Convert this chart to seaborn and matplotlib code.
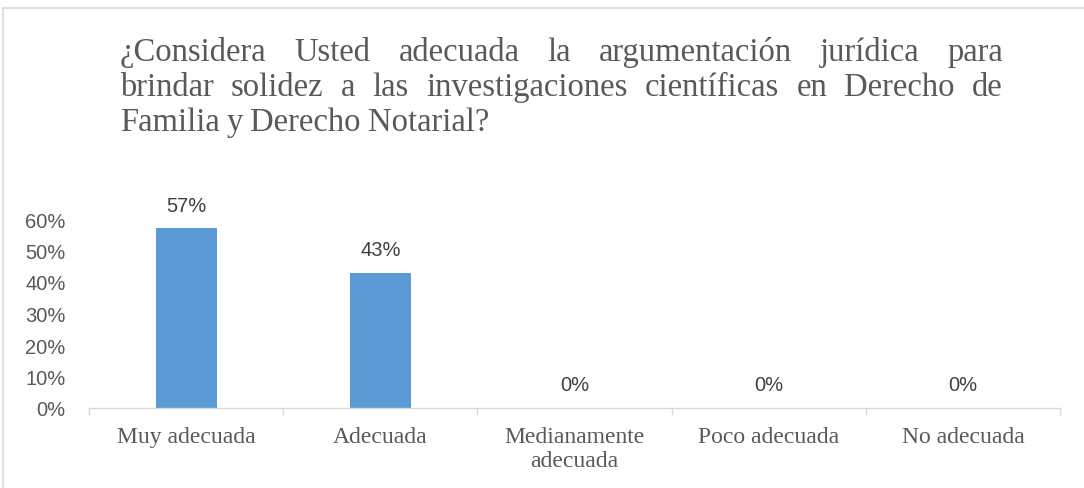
import matplotlib
matplotlib.use("Agg")
import matplotlib.pyplot as plt
import seaborn as sns
import pandas as pd
from matplotlib.patches import Rectangle

# datos del gráfico
categorias = ["Muy adecuada", "Adecuada", "Medianamente\nadecuada", "Poco adecuada", "No adecuada"]
valores = [0.57, 0.43, 0.0, 0.0, 0.0]
etiquetas = ["57%", "43%", "0%", "0%", "0%"]
yticks = [0.0, 0.1, 0.2, 0.3, 0.4, 0.5, 0.6]
titulo_lineas = [
    "¿Considera Usted adecuada la argumentación jurídica para",
    "brindar solidez a las investigaciones científicas en Derecho de",
    "Familia y Derecho Notarial?",
]

sns.set_style("white")
plt.rcParams["font.family"] = ["Liberation Sans", "DejaVu Sans"]

W, H = 1084, 489
fig = plt.figure(figsize=(W / 100, H / 100), dpi=100)
ax = fig.add_axes([89 / W, 1 - 409 / H, (1060 - 89) / W, (409 - 220) / H])

df = pd.DataFrame({"cat": categorias, "val": valores})
sns.barplot(data=df, x="cat", y="val", color="#5B9BD5", width=0.315, ax=ax,
            saturation=1, edgecolor="none")

ax.set_xlim(-0.5, 4.5)
ax.set_ylim(0, 0.6)
ax.set_yticks(yticks)
ax.set_yticklabels([f"{int(round(v * 100))}%" for v in yticks], fontsize=14.5, color="#595959")
ax.set_xlabel("")
ax.set_ylabel("")
ax.tick_params(axis="y", length=0, pad=17)
ax.tick_params(axis="x", which="major", length=0, pad=13)
ax.set_xticks([-0.5, 0.5, 1.5, 2.5, 3.5, 4.5], minor=True)
ax.tick_params(axis="x", which="minor", bottom=True, length=5, color="#d9d9d9", width=1)
for lab in ax.get_xticklabels():
    lab.set_fontfamily("Liberation Serif")
    lab.set_fontsize(17)
    lab.set_color("#595959")
    lab.set_linespacing(1.2)
for s in ["top", "right", "left"]:
    ax.spines[s].set_visible(False)
ax.spines["bottom"].set_color("#d9d9d9")
ax.spines["bottom"].set_linewidth(1)

for i, (v, t) in enumerate(zip(valores, etiquetas)):
    ax.annotate(t, (i, v), xytext=(0, 10), textcoords="offset points",
                ha="center", va="bottom", fontsize=14.5, color="#404040", clip_on=False)

# marco del gráfico
fig.patches.append(Rectangle((3 / W, -0.05), 1.1, 1 - 9 / H + 0.05, transform=fig.transFigure,
                             fill=False, edgecolor="#d9d9d9", linewidth=1.2))

# título justificado
fig.canvas.draw()
renderer = fig.canvas.get_renderer()
x_izq, x_der = 120, 1003
bases = [61, 96, 131]
for n, (linea, yb) in enumerate(zip(titulo_lineas, bases)):
    palabras = linea.split(" ")
    textos = [fig.text(0, 1 - yb / H, p, fontsize=23.5, family="Liberation Serif",
                       color="#595959", va="baseline", ha="left") for p in palabras]
    anchos = [t.get_window_extent(renderer).width for t in textos]
    if n < len(titulo_lineas) - 1:
        hueco = (x_der - x_izq - sum(anchos)) / (len(palabras) - 1)
    else:
        hueco = 7
    x = x_izq
    for t, a in zip(textos, anchos):
        t.set_x(x / W)
        x += a + hueco

fig.savefig("out.png", dpi=100)
